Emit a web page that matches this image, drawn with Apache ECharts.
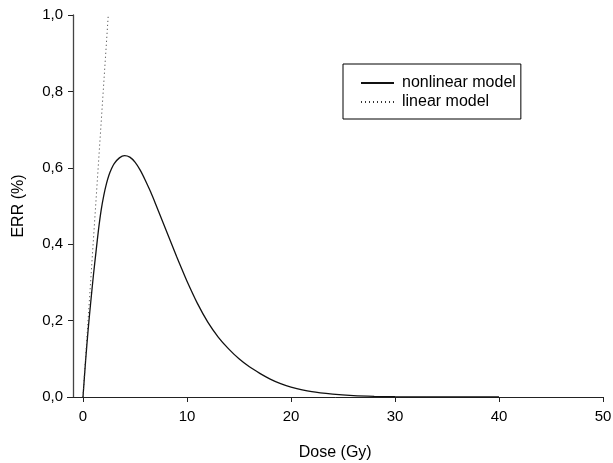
<!DOCTYPE html>
<html>
<head>
<meta charset="utf-8">
<script src="https://cdn.jsdelivr.net/npm/echarts@6/dist/echarts.min.js"></script>
<style>html,body{margin:0;padding:0;background:#fff}#c{width:613px;height:463px}</style>
</head>
<body>
<div id="c"></div>
<script>
var xTicks = [0, 10, 20, 30, 40, 50];
var yTicks = [0, 0.2, 0.4, 0.6, 0.8, 1.0];
var nonlinearDose = [0, 0.25, 0.5, 0.75, 1.0, 1.25, 1.5, 1.75, 2.0, 2.25, 2.5, 2.75, 3.0, 3.5, 4.0, 4.5, 5.0, 5.5, 6.0, 6.5, 7.0, 7.5, 8.0, 8.5, 9.0, 9.5, 10, 11, 12, 13, 14, 15, 16, 17, 18, 19, 20, 22, 24, 26, 28, 30, 33, 36, 40];
var nonlinearERR = [0, 0.095, 0.178, 0.25, 0.318, 0.38, 0.44, 0.49, 0.528, 0.558, 0.581, 0.598, 0.611, 0.626, 0.632, 0.628, 0.615, 0.594, 0.567, 0.537, 0.504, 0.47, 0.436, 0.402, 0.368, 0.335, 0.303, 0.245, 0.196, 0.157, 0.126, 0.1, 0.079, 0.062, 0.047, 0.035, 0.026, 0.014, 0.0075, 0.0036, 0.0017, 0.0008, 0.0003, 0.0001, 0];
var linearDose = [0, 2.43];
var linearERR = [0, 1.0];

function zip(a, b) { return a.map(function (v, i) { return [v, b[i]]; }); }

var chart = echarts.init(document.getElementById('c'));
var font = 'Liberation Sans, Arial, sans-serif';
chart.setOption({
  animation: false,
  backgroundColor: '#fff',
  grid: { left: 67.4, right: 10, top: 15, bottom: 66, containLabel: false, outerBoundsMode: 'none' },
  legend: {
    left: 343, top: 64, orient: 'vertical',
    borderColor: '#000', borderWidth: 1, borderRadius: 0,
    padding: [11, 5, 9, 17], itemGap: 3, itemWidth: 33, itemHeight: 14,
    itemStyle: { color: 'transparent', borderColor: 'transparent', borderWidth: 0 },
    textStyle: { fontFamily: font, fontSize: 16, color: '#000', padding: [0, 2, 0, 3] },
    data: ['nonlinear model', 'linear model']
  },
  xAxis: {
    type: 'value', min: -1.5, max: 50,
    name: 'Dose (Gy)', nameLocation: 'middle', nameGap: 48,
    nameTextStyle: { fontFamily: font, fontSize: 16, color: '#000' },
    axisLine: { show: true, onZero: false, lineStyle: { color: '#222', width: 1 } },
    axisTick: { show: true, length: 5, customValues: xTicks, lineStyle: { color: '#222' } },
    axisLabel: { customValues: xTicks, margin: 12, fontFamily: font, fontSize: 15, color: '#000' },
    splitLine: { show: false }
  },
  yAxis: {
    type: 'value', min: 0, max: 1, offset: -5.6,
    name: 'ERR (%)', nameLocation: 'middle', nameGap: 46,
    nameTextStyle: { fontFamily: font, fontSize: 16, color: '#000' },
    axisLine: { show: true, onZero: false, lineStyle: { color: '#444', width: 1.3 } },
    axisTick: { show: true, length: 5, customValues: yTicks, lineStyle: { color: '#222' } },
    axisLabel: {
      customValues: yTicks, margin: 10, fontFamily: font, fontSize: 15, color: '#000',
      formatter: function (v) { return v.toFixed(1).replace('.', ','); }
    },
    splitLine: { show: false }
  },
  series: [
    {
      name: 'nonlinear model', type: 'line', data: zip(nonlinearDose, nonlinearERR),
      symbol: 'none', smooth: 0.25, lineStyle: { color: '#111', width: 1.3 }, itemStyle: { color: '#111' }
    },
    {
      name: 'linear model', type: 'line', data: zip(linearDose, linearERR),
      symbol: 'none', lineStyle: { color: '#333', width: 1, type: [1, 3] }, itemStyle: { color: '#333' }
    }
  ]
});
</script>
</body>
</html>
